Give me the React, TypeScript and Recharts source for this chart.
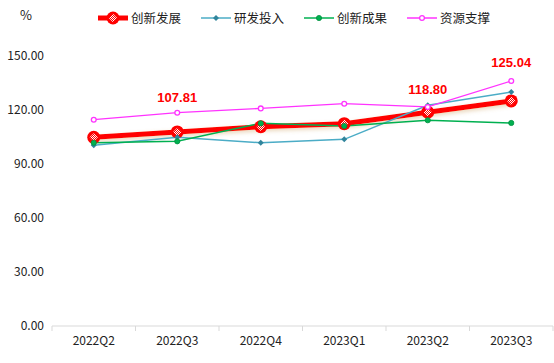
import { LineChart, Line, XAxis, YAxis } from "recharts";

const quarters = ["2022Q2", "2022Q3", "2022Q4", "2023Q1", "2023Q2", "2023Q3"];
const innovation = [104.8, 107.81, 110.7, 112.4, 118.8, 125.04]; // 创新发展
const rnd = [100.4, 104.8, 101.8, 103.7, 122.6, 130.0]; // 研发投入
const outcome = [101.8, 102.6, 112.6, 111.1, 114.3, 112.8]; // 创新成果
const resource = [114.6, 118.5, 120.9, 123.5, 121.7, 136.1]; // 资源支撑
const labelled = [false, true, false, false, true, true];
const yTicks = [0, 30, 60, 90, 120, 150];

const data = quarters.map((q, i) => ({
  q,
  innovation: innovation[i],
  rnd: rnd[i],
  outcome: outcome[i],
  resource: resource[i],
}));

const FONT = '"Noto Sans CJK SC", "Noto Sans", sans-serif';
const RED = "#ff0000";
const TEAL = "#4bacc6";
const GREEN = "#00b050";
const MAGENTA = "#ff33ff";

// how far above the point each value label sits
const LABEL_LIFT: Record<number, number> = { 1: 34, 4: 23, 5: 38 };

const RedDot = (p: any) => {
  const { cx, cy } = p;
  if (cx == null || cy == null) return null;
  return (
    <g>
      <circle cx={cx} cy={cy} r={6.5} fill={RED} />
      <path
        d={`M${cx},${cy - 4.2} L${cx + 4.2},${cy} L${cx},${cy + 4.2} L${cx - 4.2},${cy} Z`}
        fill="url(#checker)"
      />
    </g>
  );
};

const TealDot = (p: any) => {
  const { cx, cy } = p;
  if (cx == null || cy == null) return null;
  return (
    <path
      d={`M${cx},${cy - 3} L${cx + 3},${cy} L${cx},${cy + 3} L${cx - 3},${cy} Z`}
      fill="#31859c"
    />
  );
};

const GreenDot = (p: any) => {
  const { cx, cy } = p;
  if (cx == null || cy == null) return null;
  return <circle cx={cx} cy={cy} r={2.6} fill={GREEN} stroke="#00913f" strokeWidth={0.8} />;
};

const MagentaDot = (p: any) => {
  const { cx, cy } = p;
  if (cx == null || cy == null) return null;
  return <circle cx={cx} cy={cy} r={2.4} fill="#fff" stroke={MAGENTA} strokeWidth={1.3} />;
};

const ValueLabel = (p: any) => {
  const { x, y, index, value } = p;
  if (!labelled[index]) return null;
  return (
    <text
      x={x}
      y={y - (LABEL_LIFT[index] ?? 28)}
      textAnchor="middle"
      dominantBaseline="central"
      fill={RED}
      fontWeight="bold"
      fontSize={13}
      fontFamily='"Liberation Sans", Arial, sans-serif'
    >
      {Number(value).toFixed(2)}
    </text>
  );
};

const XTick = (p: any) => {
  const { x, y, payload, index } = p;
  const half = payload?.offset || 41.75;
  return (
    <g>
      <line x1={x - half} y1={y - 8} x2={x - half} y2={y - 3} stroke="#d9d9d9" />
      {index === quarters.length - 1 && (
        <line x1={x + half} y1={y - 8} x2={x + half} y2={y - 3} stroke="#d9d9d9" />
      )}
      <text x={x} y={y + 11} textAnchor="middle" fill="#222" fontSize={12} fontFamily={FONT}>
        {payload.value}
      </text>
    </g>
  );
};

const legendItems = [
  { name: "创新发展", color: RED, width: 5, dot: "red" },
  { name: "研发投入", color: TEAL, width: 1.5, dot: "teal" },
  { name: "创新成果", color: GREEN, width: 1.5, dot: "green" },
  { name: "资源支撑", color: MAGENTA, width: 1.5, dot: "magenta" },
];

function LegendSwatch({ item }: { item: (typeof legendItems)[number] }) {
  return (
    <svg width={30} height={14} style={{ marginRight: 3 }}>
      <line x1={0} y1={7} x2={30} y2={7} stroke={item.color} strokeWidth={item.width} />
      {item.dot === "red" && <RedDot cx={15} cy={7} />}
      {item.dot === "teal" && <TealDot cx={15} cy={7} />}
      {item.dot === "green" && <GreenDot cx={15} cy={7} />}
      {item.dot === "magenta" && <MagentaDot cx={15} cy={7} />}
    </svg>
  );
}

export default function App() {
  return (
    <div
      style={{
        position: "absolute",
        left: 0,
        top: 0,
        width: 554,
        height: 363,
        background: "#fff",
        fontFamily: FONT,
      }}
    >
      <svg width={0} height={0} style={{ position: "absolute" }}>
        <defs>
          <pattern id="checker" width={2} height={2} patternUnits="userSpaceOnUse">
            <rect width={1} height={1} fill="#fff" />
            <rect x={1} y={1} width={1} height={1} fill="#fff" />
          </pattern>
          <filter id="glow" x="-10%" y="-50%" width="120%" height="200%">
            <feDropShadow dx={0} dy={2} stdDeviation={2} floodColor="#c89650" floodOpacity={0.4} />
          </filter>
        </defs>
      </svg>
      <div style={{ position: "absolute", left: 20, top: 5, fontSize: 13, color: "#222" }}>%</div>
      <div
        style={{
          position: "absolute",
          top: 8,
          left: 98,
          display: "flex",
          alignItems: "center",
          fontSize: 12.5,
          color: "#222",
        }}
      >
        {legendItems.map((it) => (
          <div key={it.name} style={{ display: "flex", alignItems: "center", marginRight: 20 }}>
            <LegendSwatch item={it} />
            <span>{it.name}</span>
          </div>
        ))}
      </div>
      <LineChart
        width={554}
        height={363}
        data={data}
        margin={{ top: 56, right: 1, bottom: 0, left: 0 }}
      >
        <XAxis
          dataKey="q"
          scale="band"
          axisLine={{ stroke: "#d9d9d9" }}
          tickLine={false}
          tick={<XTick />}
          height={37}
          interval={0}
        />
        <YAxis
          domain={[0, 150]}
          ticks={yTicks}
          axisLine={false}
          tickLine={false}
          width={52}
          tickFormatter={(v: number) => v.toFixed(2)}
          tick={{ fontSize: 12, fill: "#222", fontFamily: FONT }}
        />
        <Line
          dataKey="innovation"
          stroke={RED}
          strokeWidth={5}
          dot={<RedDot />}
          activeDot={false}
          label={<ValueLabel />}
          filter="url(#glow)"
          isAnimationActive={false}
        />
        <Line
          dataKey="rnd"
          stroke={TEAL}
          strokeWidth={1.5}
          dot={<TealDot />}
          activeDot={false}
          isAnimationActive={false}
        />
        <Line
          dataKey="outcome"
          stroke={GREEN}
          strokeWidth={1.5}
          dot={<GreenDot />}
          activeDot={false}
          isAnimationActive={false}
        />
        <Line
          dataKey="resource"
          stroke={MAGENTA}
          strokeWidth={1.3}
          dot={<MagentaDot />}
          activeDot={false}
          isAnimationActive={false}
        />
      </LineChart>
    </div>
  );
}
